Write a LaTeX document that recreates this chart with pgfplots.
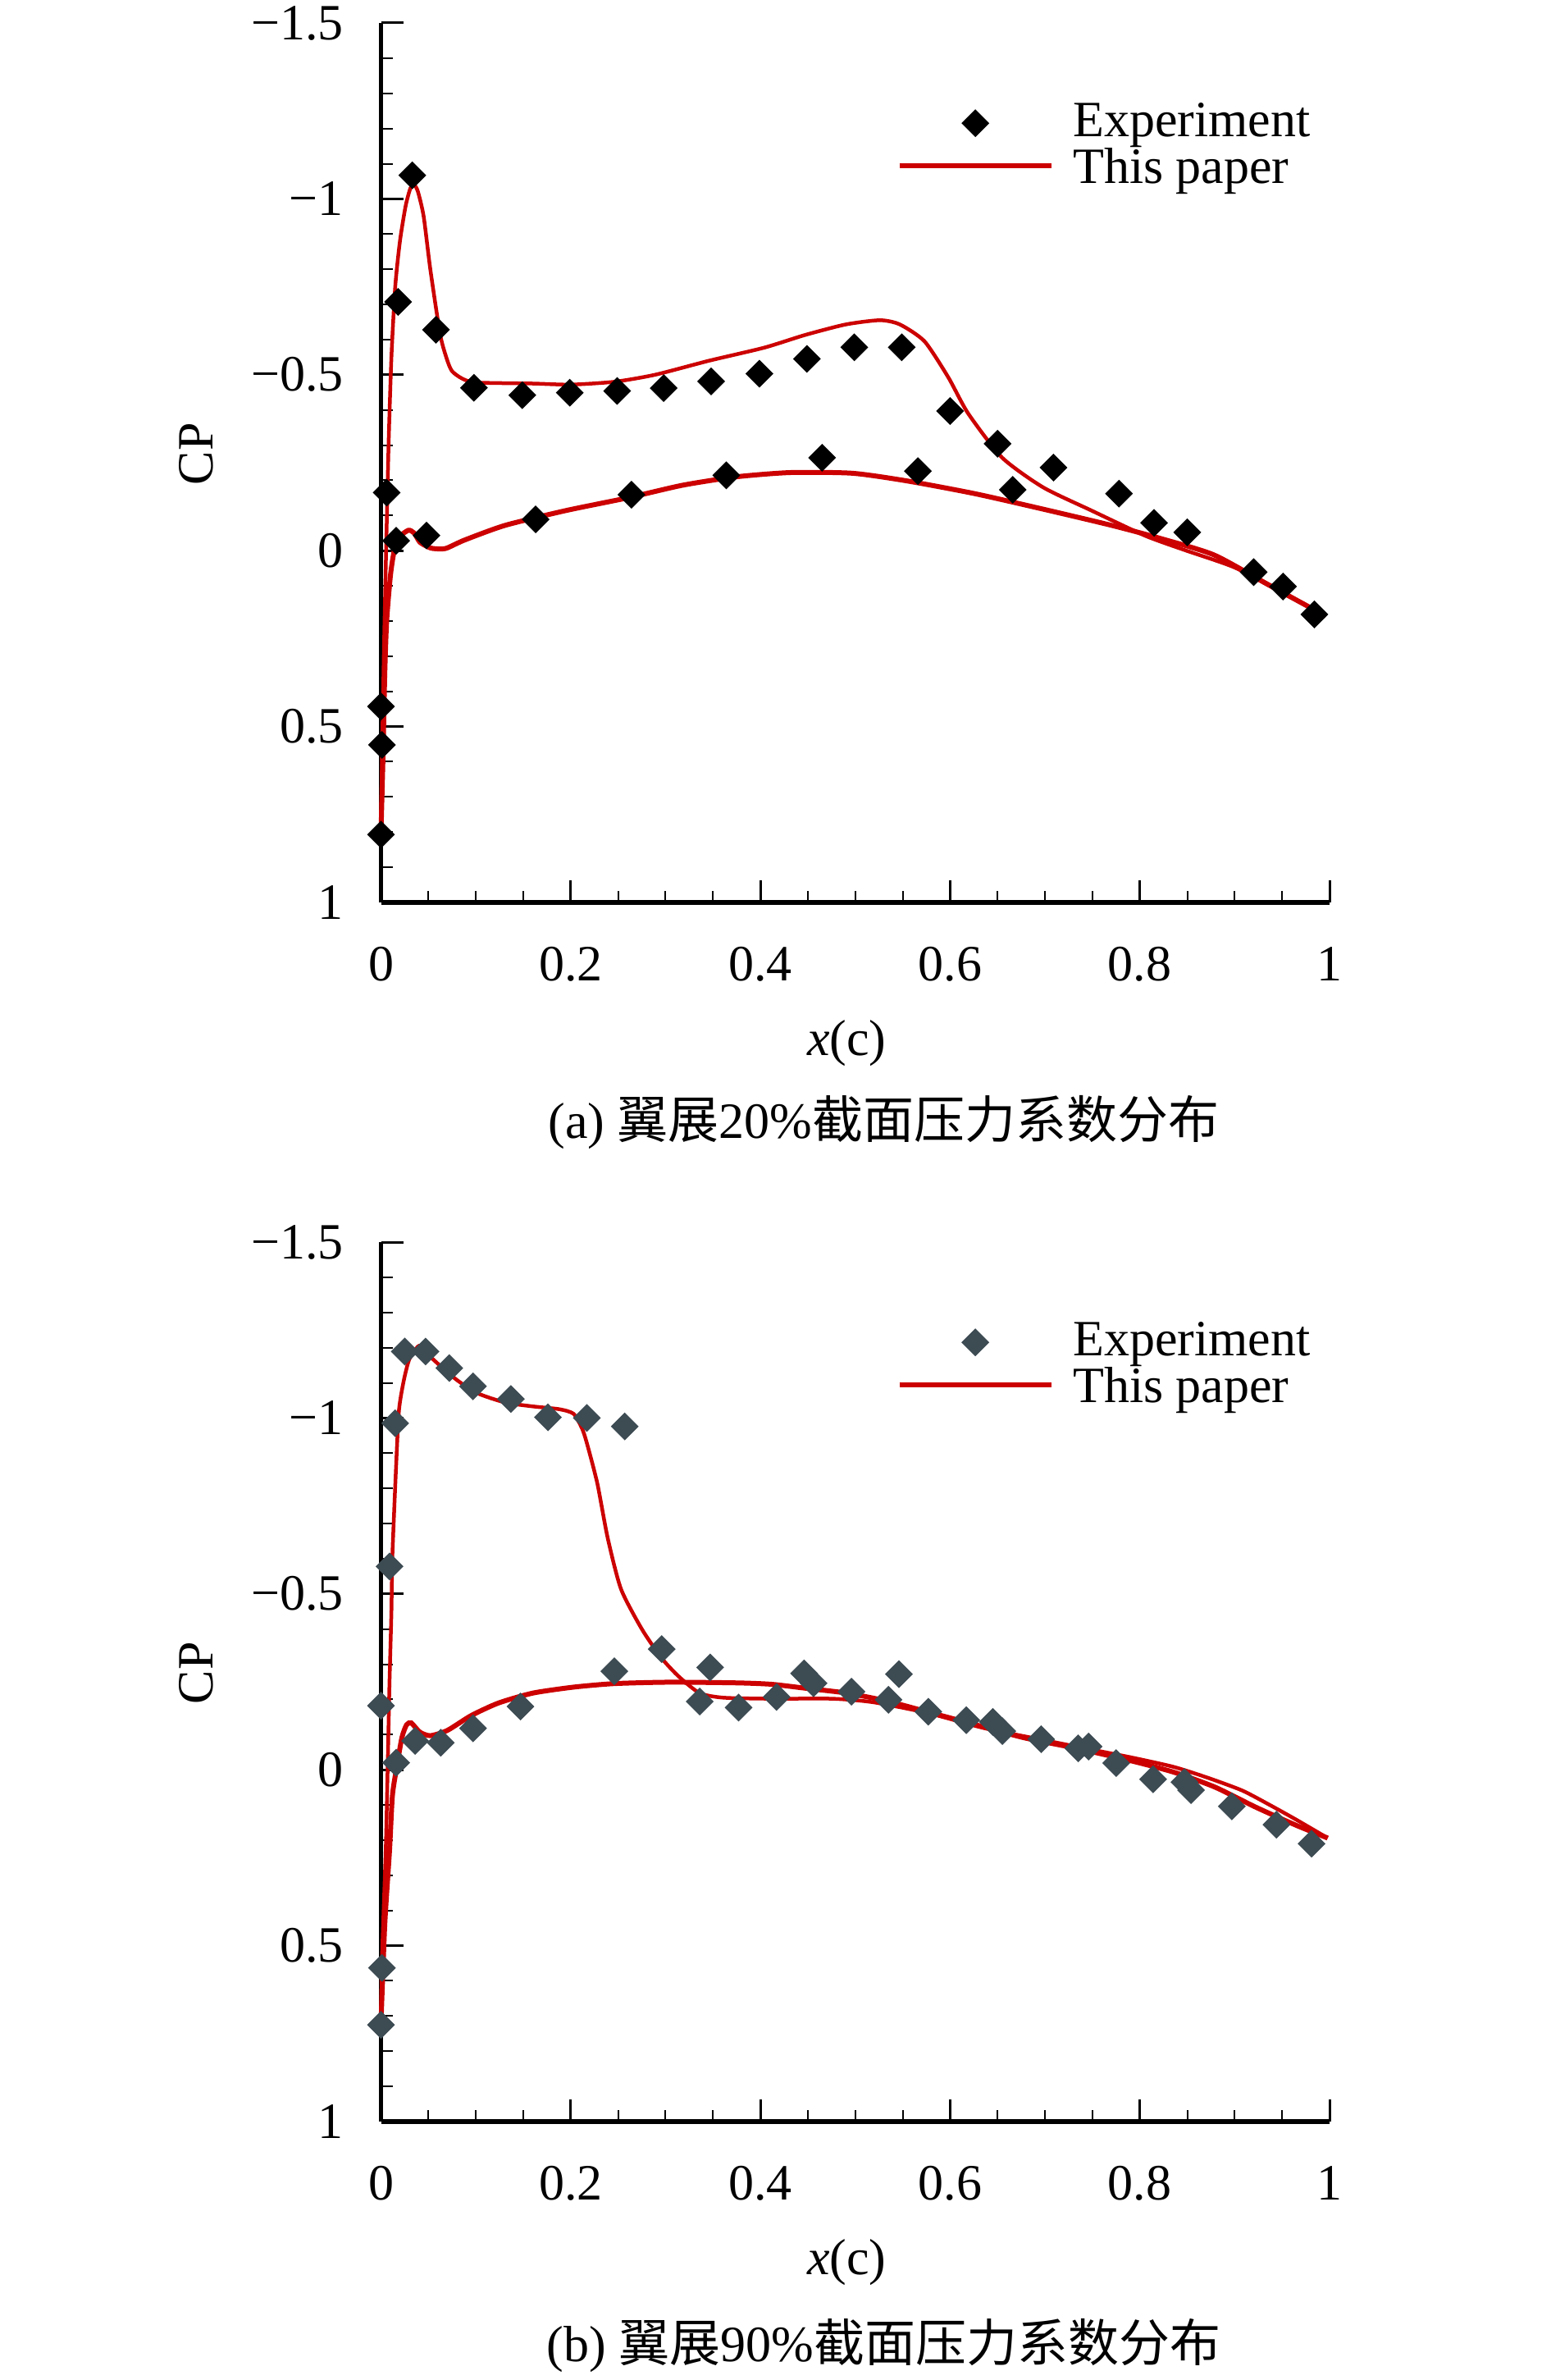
\documentclass[border=0pt]{standalone}
\usepackage{pgfplots}
\pgfplotsset{compat=1.18}
\usepackage{fontspec}
\setmainfont{Liberation Serif}
\newfontfamily\cjk{Noto Sans CJK SC}
\definecolor{cfd}{RGB}{204,0,0}
\definecolor{expb}{RGB}{61,75,83}

\pgfplotsset{
  markleg/.style={legend image code/.code={\path[draw=none,fill=none] (0pt,0pt) -- (42.3pt,0pt); \draw[##1] plot coordinates {(18.5pt,0pt)};}},
  lineleg/.style={legend image code/.code={\path[draw=none,fill=none] (0pt,1.1pt) -- (42.3pt,1.1pt); \draw[##1] (0pt,1.1pt) -- (37pt,1.1pt);}},
  expmark/.style={only marks, mark=square*, mark size=2.2pt, mark options={rotate=45}},
  cpstyle/.style={
  scale only axis, width=231.3pt, height=214.4pt,
  xmin=0, xmax=1, ymin=-1.5, ymax=1, y dir=reverse,
  axis x line*=bottom, axis y line*=left,
  axis line style={line width=1.05pt},
  tick align=inside,
  major tick length=5.4pt, minor tick length=2.8pt,
  major tick style={black, line width=0.6pt},
  minor tick style={black, line width=0.4pt},
  xtick={0,0.2,0.4,0.6,0.8,1}, xticklabels={0,0.2,0.4,0.6,0.8,1},
  minor x tick num=3,
  ytick={-1.5,-1,-0.5,0,0.5,1}, yticklabels={−1.5,−1,−0.5,0,0.5,1},
  minor y tick num=4,
  xticklabel style={yshift=-6.5pt},
  yticklabel style={xshift=-4.8pt},
  clip=false,
  ylabel={CP},
  xlabel={\textit{x}(c)},
  every axis y label/.style={at={(axis description cs:-0.195,0.51)}, rotate=90, anchor=center},
  every axis x label/.style={at={(axis description cs:0.491,-0.160)}, anchor=center},
  legend cell align=left,
  legend style={draw=none, fill=none, at={(axis description cs:0.544,0.9105)}, anchor=north west,
    inner sep=0pt, outer sep=0pt, row sep=1pt,
    nodes={inner sep=0pt, text height=8.5pt, text depth=2pt}},
}}

\pgfplotstableread{
x cp
0.006 -0.165
0.018 -0.707
0.033 -1.067
0.058 -0.628
0.098 -0.463
0.149 -0.442
0.199 -0.449
0.249 -0.454
0.298 -0.462
0.348 -0.481
0.399 -0.503
0.449 -0.545
0.499 -0.578
0.549 -0.578
0.600 -0.397
0.650 -0.304
0.709 -0.236
0.778 -0.162
0.815 -0.079
0.850 -0.052
0.920 0.061
0.951 0.102
0.984 0.181
0.000 0.807
0.001 0.552
0.000 0.443
0.016 -0.028
0.048 -0.043
0.163 -0.089
0.264 -0.159
0.364 -0.214
0.465 -0.264
0.566 -0.226
0.666 -0.173
}\expA

\pgfplotstableread{
x cp
0 0.80
0.001 0.60
0.003 0.30
0.005 0.05
0.008 -0.30
0.011 -0.55
0.015 -0.75
0.020 -0.88
0.026 -0.98
0.031 -1.03
0.035 -1.04
0.039 -1.02
0.045 -0.95
0.052 -0.80
0.0625 -0.613
0.070 -0.54
0.075 -0.51
0.085 -0.49
0.100 -0.478
0.160 -0.475
0.200 -0.472
0.246 -0.480
0.289 -0.500
0.346 -0.540
0.404 -0.577
0.447 -0.613
0.490 -0.643
0.526 -0.655
0.547 -0.643
0.573 -0.595
0.598 -0.493
0.619 -0.390
0.655 -0.264
0.698 -0.180
0.749 -0.114
0.806 -0.042
0.849 0.000
0.900 0.048
0.950 0.120
0.996 0.186
}\cfdAu

\pgfplotstableread{
x cp
0 0.80
0.002 0.60
0.004 0.35
0.006 0.20
0.010 0.07
0.014 0.00
0.020 -0.04
0.029 -0.058
0.035 -0.050
0.041 -0.024
0.050 -0.010
0.055 -0.006
0.068 -0.006
0.088 -0.030
0.131 -0.072
0.195 -0.114
0.260 -0.150
0.318 -0.186
0.375 -0.210
0.432 -0.222
0.497 -0.220
0.555 -0.198
0.626 -0.162
0.698 -0.118
0.770 -0.072
0.820 -0.036
0.878 0.012
0.935 0.096
0.996 0.186
}\cfdAl

\pgfplotstableread{
x cp
0.000 -0.182
0.009 -0.578
0.015 -0.985
0.025 -1.189
0.047 -1.189
0.072 -1.142
0.097 -1.090
0.137 -1.054
0.176 -1.002
0.217 -1.000
0.257 -0.976
0.296 -0.343
0.336 -0.194
0.347 -0.291
0.377 -0.177
0.246 -0.280
0.417 -0.207
0.446 -0.274
0.456 -0.246
0.496 -0.222
0.535 -0.199
0.546 -0.272
0.577 -0.165
0.617 -0.141
0.645 -0.136
0.655 -0.110
0.696 -0.087
0.735 -0.061
0.746 -0.066
0.775 -0.019
0.814 0.027
0.847 0.035
0.854 0.058
0.897 0.104
0.944 0.156
0.981 0.210
0.016 -0.020
0.036 -0.082
0.063 -0.077
0.097 -0.118
0.147 -0.180
0.001 0.563
0.000 0.725
}\expB

\pgfplotstableread{
x cp
0 0.72
0.001 0.54
0.005 0.23
0.007 0.00
0.009 -0.25
0.011 -0.45
0.012 -0.607
0.016 -0.867
0.019 -1.023
0.024 -1.106
0.030 -1.168
0.040 -1.205
0.048 -1.184
0.063 -1.147
0.081 -1.106
0.102 -1.070
0.131 -1.044
0.160 -1.033
0.188 -1.025
0.203 -1.012
0.212 -0.970
0.217 -0.929
0.228 -0.815
0.239 -0.659
0.253 -0.514
0.275 -0.400
0.296 -0.317
0.314 -0.265
0.336 -0.218
0.361 -0.205
0.412 -0.202
0.476 -0.202
0.519 -0.192
0.577 -0.161
0.635 -0.119
0.692 -0.088
0.750 -0.057
0.793 -0.034
0.836 -0.008
0.872 0.023
0.908 0.059
0.937 0.100
0.965 0.142
0.998 0.194
}\cfdBu

\pgfplotstableread{
x cp
0 0.72
0.004 0.44
0.009 0.23
0.012 0.075
0.016 0.002
0.022 -0.091
0.027 -0.128
0.032 -0.133
0.041 -0.107
0.052 -0.097
0.070 -0.112
0.095 -0.154
0.124 -0.190
0.160 -0.218
0.203 -0.235
0.246 -0.245
0.304 -0.249
0.376 -0.247
0.412 -0.243
0.447 -0.232
0.491 -0.218
0.534 -0.195
0.577 -0.164
0.627 -0.128
0.678 -0.091
0.735 -0.060
0.793 -0.024
0.836 0.007
0.879 0.049
0.922 0.106
0.965 0.158
0.998 0.194
}\cfdBl

\begin{document}
\fontsize{12.4}{14}\selectfont
\begin{tikzpicture}
\path[use as bounding box] (0,0) rectangle (378pt,580.2pt);

\begin{axis}[cpstyle, at={(92.9pt,360.2pt)}, anchor=south west]
\addlegendimage{black, expmark, markleg}
\addlegendentry{Experiment}
\addlegendimage{cfd, line width=1.2pt, lineleg}
\addlegendentry{This paper}
\addplot[cfd, line width=0.9pt, smooth, tension=0.4, forget plot] table[x=x,y=cp] {\cfdAu};
\addplot[cfd, line width=1.2pt, smooth, tension=0.4, forget plot] table[x=x,y=cp] {\cfdAl};
\addplot[black, expmark, forget plot] table[x=x,y=cp] {\expA};
\node at (axis description cs:0.53,-0.250) {(a) {\cjk 翼展}20\%{\cjk 截面压力系数分布}};
\end{axis}

\begin{axis}[cpstyle, at={(92.9pt,63pt)}, anchor=south west]
\addlegendimage{expb, expmark, markleg}
\addlegendentry{Experiment}
\addlegendimage{cfd, line width=1.2pt, lineleg}
\addlegendentry{This paper}
\addplot[cfd, line width=0.9pt, smooth, tension=0.4, forget plot] table[x=x,y=cp] {\cfdBu};
\addplot[cfd, line width=1.2pt, smooth, tension=0.4, forget plot] table[x=x,y=cp] {\cfdBl};
\addplot[expb, expmark, forget plot] table[x=x,y=cp] {\expB};
\node at (axis description cs:0.53,-0.255) {(b) {\cjk 翼展}90\%{\cjk 截面压力系数分布}};
\end{axis}
\end{tikzpicture}
\end{document}
